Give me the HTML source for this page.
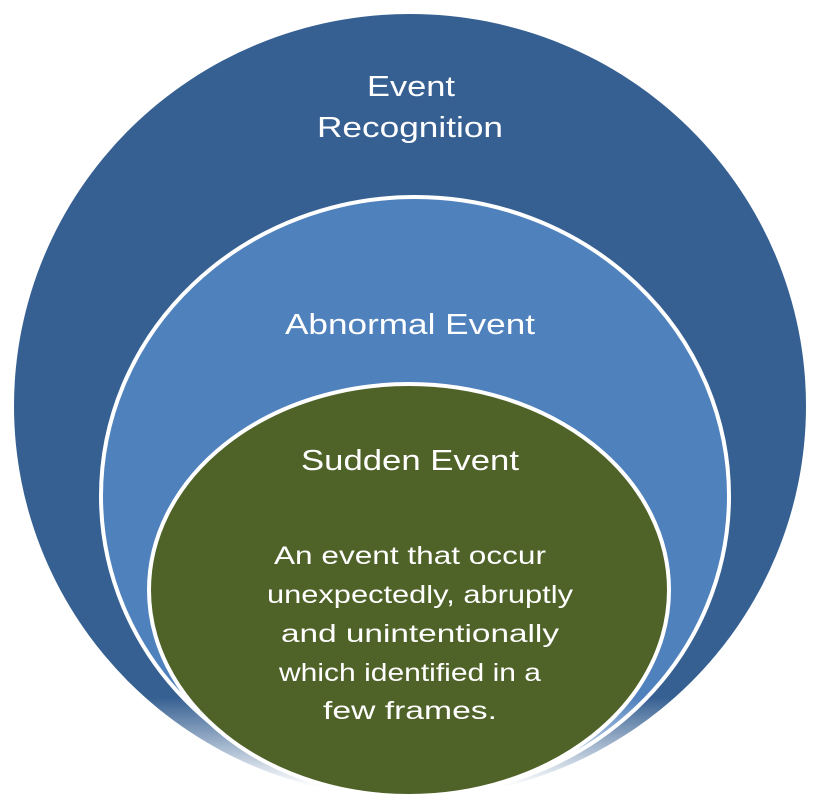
<!DOCTYPE html>
<html><head><meta charset="utf-8"><style>
html,body{margin:0;padding:0;background:#fff;width:821px;height:811px;overflow:hidden}
text{font-family:"Liberation Sans Narrow","Liberation Sans",sans-serif;fill:#fff}
</style></head><body>
<svg width="821" height="811" viewBox="0 0 821 811" xmlns="http://www.w3.org/2000/svg">
<defs>
<linearGradient id="fg" x1="0" y1="0" x2="0" y2="1" gradientUnits="objectBoundingBox">
<stop offset="0" stop-color="#fff"/>
<stop offset="0.86" stop-color="#fff"/>
<stop offset="0.97" stop-color="#fff" stop-opacity="0"/>
</linearGradient>
<mask id="m" maskUnits="userSpaceOnUse" x="0" y="0" width="821" height="811">
<rect x="0" y="0" width="821" height="811" fill="url(#fg)"/>
</mask>
</defs>
<g mask="url(#m)">
<ellipse cx="410" cy="406" rx="396" ry="392" fill="#366092"/>
<ellipse cx="415" cy="496" rx="314" ry="299" fill="#4f81bd" stroke="#fff" stroke-width="4"/>
</g>
<ellipse cx="409" cy="590" rx="260" ry="206" fill="#4f6228" stroke="#fff" stroke-width="4"/>
<g text-anchor="middle" font-size="29">
<text x="411" y="96" textLength="88" lengthAdjust="spacingAndGlyphs">Event</text>
<text x="410" y="137" textLength="186" lengthAdjust="spacingAndGlyphs">Recognition</text>
<text x="410" y="334" textLength="250" lengthAdjust="spacingAndGlyphs">Abnormal Event</text>
<text x="410" y="470" textLength="218" lengthAdjust="spacingAndGlyphs">Sudden Event</text>
</g>
<g text-anchor="middle" font-size="25">
<text x="410" y="564" textLength="272" lengthAdjust="spacingAndGlyphs">An event that occur</text>
<text x="420" y="603" textLength="306" lengthAdjust="spacingAndGlyphs">unexpectedly, abruptly</text>
<text x="420" y="642" textLength="278" lengthAdjust="spacingAndGlyphs">and unintentionally</text>
<text x="410" y="681" textLength="262" lengthAdjust="spacingAndGlyphs">which identified in a</text>
<text x="410" y="719" textLength="174" lengthAdjust="spacingAndGlyphs">few  frames.</text>
</g>
</svg>
</body></html>
